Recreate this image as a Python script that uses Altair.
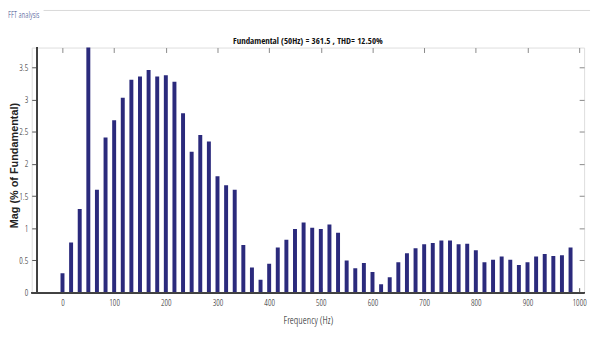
import altair as alt
import pandas as pd

# FFT bins: resolution 50/3 Hz (3-cycle window), 0 .. 983.3 Hz
bin_index = list(range(60))
freqs = [round(k * 50 / 3, 2) for k in bin_index]
mags = [0.30, 0.78, 1.30, 100.0, 1.60, 2.41, 2.68, 3.03, 3.31, 3.36,
        3.46, 3.36, 3.38, 3.28, 2.79, 2.19, 2.45, 2.35, 1.81, 1.67,
        1.60, 0.74, 0.39, 0.20, 0.45, 0.70, 0.82, 0.99, 1.09, 1.01,
        0.99, 1.06, 0.93, 0.50, 0.38, 0.46, 0.32, 0.13, 0.24, 0.47,
        0.61, 0.69, 0.75, 0.77, 0.81, 0.81, 0.75, 0.76, 0.66, 0.47,
        0.51, 0.56, 0.51, 0.43, 0.47, 0.56, 0.60, 0.57, 0.58, 0.70]
x_ticks = [0, 100, 200, 300, 400, 500, 600, 700, 800, 900, 1000]
y_ticks = [0, 0.5, 1, 1.5, 2, 2.5, 3, 3.5]
title_text = "Fundamental (50Hz) = 361.5 , THD= 12.50%"
panel_label = "FFT analysis"

df = pd.DataFrame({"freq": freqs, "mag": mags})

NARROW = "Open Sans Condensed, Liberation Sans Narrow, Arial Narrow, DejaVu Sans Condensed, sans-serif"
LIGHT = ("Open Sans Condensed Light, Open Sans Condensed, Liberation Sans Narrow, "
         "Arial Narrow, DejaVu Sans Condensed, sans-serif")
W, H = 559, 248

xscale = alt.Scale(domain=[-50, 1000], nice=False, zero=False)
yscale = alt.Scale(domain=[0, 3.81], nice=False)

bars = alt.Chart(df).mark_bar(size=4, color="#2b2a7c", clip=True).encode(
    x=alt.X("freq:Q", scale=xscale,
            axis=alt.Axis(orient="bottom", values=x_ticks, format="d", offset=-5, tickSize=5,
                          domain=False, grid=False, labelPadding=6,
                          labelFont=LIGHT, labelFontSize=9, labelFontWeight=300,
                          labelColor="#222",
                          tickColor="#555", title="Frequency (Hz)",
                          titleFont=LIGHT, titleFontSize=10.5, titleFontWeight=300,
                          titleColor="#111", titlePadding=8)),
    y=alt.Y("mag:Q", scale=yscale,
            axis=alt.Axis(orient="left", values=y_ticks, format="~g", offset=-5, tickSize=5,
                          domain=False, grid=False, labelPadding=4,
                          labelFont=LIGHT, labelFontSize=9, labelFontWeight=300,
                          labelColor="#222",
                          tickColor="#555", title="Mag (% of Fundamental)",
                          titleFont="Liberation Sans, Arial, sans-serif", titleFontSize=11,
                          titleFontWeight="bold", titleColor="#222",
                          titleX=-17, titleY=119, titleBaseline="bottom",
                          titleAngle=270, titleAlign="center")),
)

mirror = alt.Chart(df).mark_point(opacity=0).encode(
    x=alt.X("freq:Q", scale=xscale,
            axis=alt.Axis(orient="top", values=x_ticks, offset=-5, tickSize=5,
                          domain=False, grid=False, labels=False, title=None,
                          tickColor="#888")),
    y=alt.Y("mag:Q", scale=yscale,
            axis=alt.Axis(orient="right", values=y_ticks, offset=-5, tickSize=5,
                          domain=False, grid=False, labels=False, title=None,
                          tickColor="#888")),
)

bottom_line = alt.Chart(df).mark_rule(color="#444", strokeWidth=1).encode(
    y=alt.YDatum(0, axis=None), x=alt.value(0), x2=alt.value(W))
left_line = alt.Chart(df).mark_rule(color="#444", strokeWidth=1).encode(
    x=alt.XDatum(-50, axis=None), y=alt.value(0), y2=alt.value(H))

texts = pd.DataFrame({"t": [panel_label]})
label = alt.Chart(texts).mark_text(
    align="left", baseline="top", font=LIGHT, fontSize=8.5, fontWeight=300,
    color="#3b4f8f"
).encode(text="t:N", x=alt.value(-24), y=alt.value(-37))

frame_line = alt.Chart(texts).mark_rule(
    color="#d8d8d8", strokeWidth=1
).encode(x=alt.value(12), x2=alt.value(W + 6), y=alt.value(-37.5))

title_mark = alt.Chart(pd.DataFrame({"t": [title_text]})).mark_text(
    align="center", baseline="alphabetic", font=NARROW, fontSize=9,
    fontWeight="bold", color="#111"
).encode(text="t:N", x=alt.value(W / 2), y=alt.value(-4))

chart = alt.layer(bars, mirror, bottom_line, left_line, label, frame_line, title_mark).resolve_axis(
    x="independent", y="independent"
).properties(
    width=W, height=H,
    autosize=alt.AutoSizeParams(type="none"),
    padding={"left": 24, "top": 38, "right": 9, "bottom": 50},
).configure_view(stroke="#b5b5b5", strokeWidth=1).configure(background="white")

chart.save("out.html", embed_options={"renderer": "svg", "actions": False})
